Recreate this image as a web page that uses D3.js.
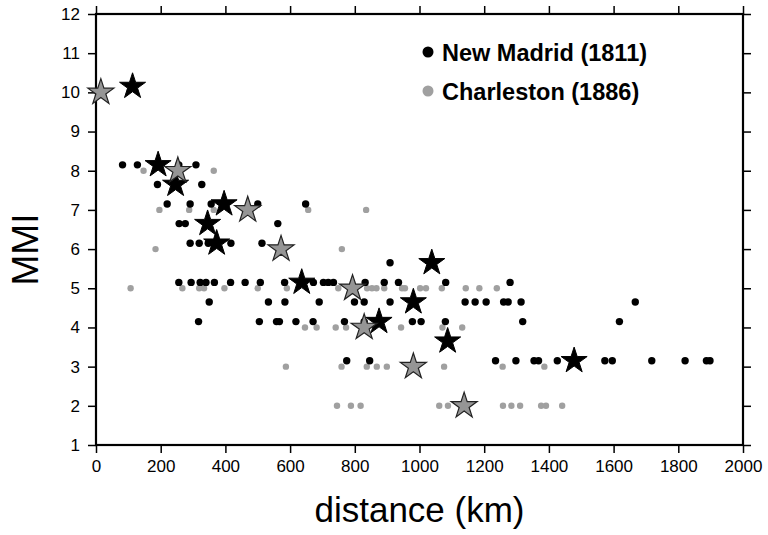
<!DOCTYPE html>
<html>
<head>
<meta charset="utf-8">
<script src="https://cdn.jsdelivr.net/npm/d3@7"></script>
<style>
  html, body { margin: 0; padding: 0; background: #fff; }
  svg { display: block; }
  text { font-family: "Liberation Sans", Arial, Helvetica, sans-serif; }
</style>
</head>
<body>
<svg id="chart" width="768" height="535"></svg>
<script>
// ---------------- DATA ----------------
const seriesNames = ["New Madrid (1811)", "Charleston (1886)"];

// New Madrid (1811) observations: [distance km, MMI]
const newMadridDist = [
  82, 128, 256, 309,
  190, 327,
  220, 291, 356, 500, 648,
  257, 276, 562,
  291, 319, 347, 362, 417, 513,
  909,
  256, 294, 322, 340, 366, 416, 461, 508, 583, 672, 703, 718, 734, 832, 891, 935, 1081, 1280,
  350, 533, 584, 690, 799, 829, 909, 1141, 1172, 1206, 1260, 1274, 1314, 1667,
  317, 505, 558, 567, 618, 671, 768, 829, 978, 1005, 1080, 1319, 1618,
  775, 846, 1235, 1298, 1354, 1368, 1426, 1573, 1596, 1718, 1821, 1887, 1898
];
const newMadridMMI = [
  8, 8, 8, 8,
  7.5, 7.5,
  7, 7, 7, 7, 7,
  6.5, 6.5, 6.5,
  6, 6, 6, 6, 6, 6,
  5.5,
  5, 5, 5, 5, 5, 5, 5, 5, 5, 5, 5, 5, 5, 5, 5, 5, 5, 5,
  4.5, 4.5, 4.5, 4.5, 4.5, 4.5, 4.5, 4.5, 4.5, 4.5, 4.5, 4.5, 4.5, 4.5,
  4, 4, 4, 4, 4, 4, 4, 4, 4, 4, 4, 4, 4,
  3, 3, 3, 3, 3, 3, 3, 3, 3, 3, 3, 3, 3
];

// Charleston (1886) observations
const charlestonDist = [
  147, 364,
  196, 288, 364, 656, 835,
  184, 760,
  107, 267, 319, 334, 397, 500, 590, 749, 838, 853, 867, 891, 946, 955, 1002, 1020, 1069, 1143, 1185, 1239,
  646, 682, 741, 773, 943, 1071, 1132,
  587, 759, 837, 868, 899, 1076, 1257, 1386,
  745, 788, 818, 1061, 1088, 1258, 1284, 1311, 1376, 1391, 1441
];
const charlestonMMI = [
  8, 8,
  7, 7, 7, 7, 7,
  6, 6,
  5, 5, 5, 5, 5, 5, 5, 5, 5, 5, 5, 5, 5, 5, 5, 5, 5, 5, 5, 5,
  4, 4, 4, 4, 4, 4, 4,
  3, 3, 3, 3, 3, 3, 3, 3,
  2, 2, 2, 2, 2, 2, 2, 2, 2, 2, 2
];

// Stars (per-intensity representative distances)
const newMadridStarDist = [113, 192, 246, 396, 345, 373, 1038, 636, 981, 875, 1087, 1478];
const newMadridStarMMI  = [10, 8, 7.5, 7, 6.5, 6, 5.5, 5, 4.5, 4, 3.5, 3];
const charlestonStarDist = [15, 253, 469, 572, 793, 829, 981, 1138];
const charlestonStarMMI  = [10, 8, 7, 6, 5, 4, 3, 2];

// Axis ticks
const xTicks = [0, 200, 400, 600, 800, 1000, 1200, 1400, 1600, 1800, 2000];
const yTicks = [1, 2, 3, 4, 5, 6, 7, 8, 9, 10, 11, 12];

// ---------------- LAYOUT ----------------
const mLeft = 96, mRight = 743, mTop = 14, mBottom = 445;
const NM_OFFSET = 0.15;   // vertical offset of New Madrid symbols (as in original)
const BLACK = "#000", GREY = "#a0a0a0", GREY_STAR = "#959595";

const svg = d3.select("#chart");
const x = d3.scaleLinear().domain([0, 2000]).range([mLeft, mRight]);
const y = d3.scaleLinear().domain([1, 12]).range([mBottom, mTop]);

const nm = newMadridDist.map((d, i) => ({d, m: newMadridMMI[i]}));
const ch = charlestonDist.map((d, i) => ({d, m: charlestonMMI[i]}));
const nmS = newMadridStarDist.map((d, i) => ({d, m: newMadridStarMMI[i]}));
const chS = charlestonStarDist.map((d, i) => ({d, m: charlestonStarMMI[i]}));

// Axes
function styleAxis(g, labels) {
  g.select(".domain").remove();
  g.selectAll(".tick line").attr("stroke", "#000").attr("stroke-width", 1.5);
  g.selectAll(".tick text").attr("fill", "#000")
    .style("font-size", "17px")
    .style("font-family", "'Liberation Sans', Arial, sans-serif");
  if (!labels) g.selectAll(".tick text").remove();
}
svg.append("g").attr("transform", `translate(${mLeft},0)`)
  .call(d3.axisLeft(y).tickValues(yTicks).tickSize(8).tickPadding(8).tickFormat(d3.format("d")))
  .call(g => styleAxis(g, true));
svg.append("g").attr("transform", `translate(0,${mBottom})`)
  .call(d3.axisBottom(x).tickValues(xTicks).tickSize(8).tickPadding(7).tickFormat(d3.format("d")))
  .call(g => styleAxis(g, true));
svg.append("g").attr("transform", `translate(0,${mTop})`)
  .call(d3.axisTop(x).tickValues(xTicks).tickSize(8))
  .call(g => styleAxis(g, false));
svg.append("g").attr("transform", `translate(${mRight},0)`)
  .call(d3.axisRight(y).tickValues(yTicks).tickSize(8))
  .call(g => styleAxis(g, false));

// Frame
svg.append("rect")
  .attr("x", mLeft).attr("y", mTop)
  .attr("width", mRight - mLeft).attr("height", mBottom - mTop)
  .attr("fill", "none").attr("stroke", "#000").attr("stroke-width", 2.2);

// Dots
svg.append("g").selectAll("circle").data(ch).join("circle")
  .attr("cx", p => x(p.d)).attr("cy", p => y(p.m))
  .attr("r", 3.2).attr("fill", GREY);
svg.append("g").selectAll("circle").data(nm).join("circle")
  .attr("cx", p => x(p.d)).attr("cy", p => y(p.m + NM_OFFSET))
  .attr("r", 3.7).attr("fill", BLACK);

// Stars
const star = d3.symbol().type(d3.symbolStar).size(210);
svg.append("g").selectAll("path").data(nmS).join("path")
  .attr("d", star)
  .attr("transform", p => `translate(${x(p.d)},${y(p.m + NM_OFFSET)})`)
  .attr("fill", BLACK).attr("stroke", "#000").attr("stroke-width", 1);
svg.append("g").selectAll("path").data(chS).join("path")
  .attr("d", star)
  .attr("transform", p => `translate(${x(p.d)},${y(p.m)})`)
  .attr("fill", GREY_STAR).attr("stroke", "#222").attr("stroke-width", 1.2);

// Legend
const legend = svg.append("g");
const legColors = [BLACK, GREY];
const legY = [52, 91];
seriesNames.forEach((name, i) => {
  legend.append("circle").attr("cx", 428).attr("cy", legY[i]).attr("r", 5.5).attr("fill", legColors[i]);
  legend.append("text").attr("x", 442).attr("y", legY[i] + 9)
    .style("font-size", "23.5px").style("font-weight", "bold").attr("fill", "#000")
    .text(name);
});

// Axis titles
svg.append("text").attr("x", (mLeft + mRight) / 2).attr("y", 522)
  .attr("text-anchor", "middle").style("font-size", "35px").attr("fill", "#000")
  .text("distance (km)");
svg.append("text")
  .attr("transform", `translate(38,${(mTop + mBottom) / 2 + 20}) rotate(-90)`)
  .attr("text-anchor", "middle").style("font-size", "37px").attr("fill", "#000")
  .text("MMI");
</script>
</body>
</html>
